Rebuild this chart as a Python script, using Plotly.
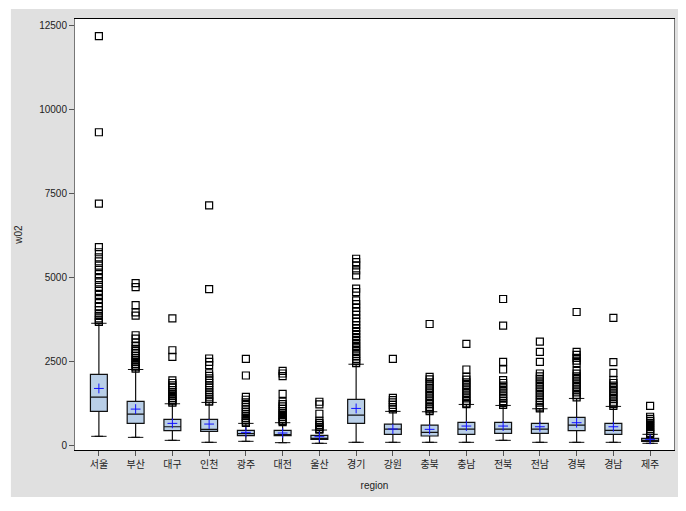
import plotly.graph_objects as go

regions = ['서울', '부산', '대구', '인천', '광주', '대전', '울산', '경기',
           '강원', '충북', '충남', '전북', '전남', '경북', '경남', '제주']

q1 = [1003, 645, 426, 407, 277, 277, 169, 645, 318, 268, 318, 347, 347, 426, 318, 110]
median = [1428, 922, 545, 467, 337, 298, 188, 893, 476, 377, 476, 476, 476, 595, 437, 129]
q3 = [2104, 1300, 765, 765, 437, 437, 288, 1359, 625, 595, 675, 675, 645, 824, 645, 198]
mean = [1687, 1071, 645, 625, 377, 357, 248, 1091, 476, 467, 565, 565, 545, 665, 545, 169]
lower_whisker = [259, 228, 139, 80, 110, 70, 50, 80, 80, 80, 80, 139, 80, 80, 80, 50]
upper_whisker = [3631, 2252, 1230, 1270, 645, 665, 446, 2410, 1003, 992, 1210, 1180, 1081, 1389, 1151, 318]

# outliers per region
outliers = {
    '서울': [12200, 9330, 7200, 5900, 5750, 5600, 5480, 5350, 5220, 5100, 4980, 4850,
            4720, 4600, 4480, 4350, 4230, 4120, 4020, 3930, 3850, 3780, 3720, 3670],
    '부산': [4830, 4710, 4175, 3958, 3860, 3274, 3175, 3050, 2950, 2870, 2800, 2730,
            2660, 2600, 2540, 2480, 2420, 2370, 2320, 2280],
    '대구': [3780, 2827, 2628, 1930, 1850, 1780, 1710, 1640, 1580, 1520, 1460, 1400,
            1350, 1300, 1260],
    '인천': [7150, 4652, 2580, 2480, 2380, 2140, 2060, 1990, 1920, 1850, 1780, 1710,
            1640, 1570, 1500, 1440, 1380, 1320, 1290],
    '광주': [2570, 2073, 1437, 1350, 1270, 1200, 1130, 1060, 990, 930, 870, 810, 750,
            700, 660],
    '대전': [2212, 2133, 2053, 1527, 1290, 1220, 1150, 1080, 1010, 950, 890, 830, 770,
            720, 680],
    '울산': [1290, 1210, 932, 724, 660, 600, 540, 480, 460],
    '경기': [5556, 5456, 5357, 5208, 5060, 4663, 4563, 4315, 4200, 4090, 3980, 3880,
            3780, 3680, 3580, 3490, 3400, 3310, 3220, 3130, 3040, 2960, 2880, 2800,
            2720, 2640, 2570, 2500, 2440],
    '강원': [2570, 1408, 1340, 1270, 1200, 1130, 1060],
    '충북': [3610, 2033, 1960, 1870, 1780, 1700, 1620, 1540, 1460, 1380, 1300, 1220,
            1140, 1060, 1010],
    '충남': [3016, 2252, 2033, 1950, 1870, 1790, 1710, 1630, 1550, 1470, 1390, 1310,
            1240, 1220],
    '전북': [4355, 3561, 2480, 2252, 1935, 1850, 1770, 1690, 1610, 1530, 1450, 1380,
            1310, 1250, 1200],
    '전남': [3085, 2777, 2480, 2133, 2050, 1970, 1890, 1810, 1730, 1650, 1570, 1490,
            1410, 1330, 1260, 1190, 1120, 1090],
    '경북': [3968, 2777, 2690, 2600, 2520, 2440, 2214, 2130, 2050, 1970, 1890, 1810,
            1730, 1650, 1570, 1490, 1420],
    '경남': [3790, 2470, 2153, 1935, 1850, 1770, 1690, 1610, 1530, 1450, 1370, 1290,
            1220, 1170],
    '제주': [1170, 843, 780, 720, 660, 600, 540, 480, 420, 360, 330],
}

y_ticks = [0, 2500, 5000, 7500, 10000, 12500]

font_family = "Liberation Sans, Noto Sans CJK KR, sans-serif"

fig = go.Figure()

fig.add_trace(go.Box(
    x=regions,
    q1=q1, median=median, q3=q3,
    lowerfence=lower_whisker, upperfence=upper_whisker,
    fillcolor='#b9cfe8',
    line=dict(color='#111111', width=1.2),
    width=0.46,
    boxpoints=False,
    hoverinfo='skip',
    showlegend=False,
))

# whisker caps
fig.add_trace(go.Scatter(
    x=regions + regions,
    y=lower_whisker + upper_whisker,
    mode='markers',
    marker=dict(symbol='line-ew', size=11, color='#111111',
                line=dict(color='#111111', width=1)),
    showlegend=False, hoverinfo='skip',
))

# outliers
ox, oy = [], []
for r in regions:
    for v in outliers[r]:
        ox.append(r)
        oy.append(v)
fig.add_trace(go.Scatter(
    x=ox, y=oy, mode='markers',
    marker=dict(symbol='square-open', size=7, color='black', line=dict(width=1.2)),
    showlegend=False,
))

# means
fig.add_trace(go.Scatter(
    x=regions, y=mean, mode='markers',
    marker=dict(symbol='cross-thin-open', size=7, color='#1010ff',
                line=dict(color='#1010ff', width=1)),
    showlegend=False,
))

# gray backdrop, white plot area on top of it
fig.add_shape(type='rect', xref='paper', yref='paper',
              x0=-0.107, x1=1.013, y0=-0.1088, y1=1.0231,
              fillcolor='#e0e0e0', line=dict(width=0), layer='below')
fig.add_shape(type='rect', xref='paper', yref='paper',
              x0=0, x1=1, y0=0, y1=1,
              fillcolor='white', line=dict(width=0), layer='below')

fig.update_layout(
    width=686, height=511,
    margin=dict(l=65, r=20, t=10, b=69),
    paper_bgcolor='white',
    plot_bgcolor='white',
    font=dict(family=font_family, size=10, color='#222222'),
    showlegend=False,
)
fig.update_xaxes(
    type='category', range=[-0.65, 15.65],
    showline=True, linecolor='black', linewidth=1, mirror=True,
    ticks='outside', ticklen=5, tickcolor='#555555',
    showgrid=False, zeroline=False,
    title=dict(text='region', standoff=12, font=dict(size=10)),
)
fig.update_yaxes(
    range=[-149, 12708],
    tickvals=y_ticks, ticktext=[str(v) for v in y_ticks],
    showline=True, linecolor='#777777', linewidth=1, mirror=True,
    ticks='outside', ticklen=5, tickcolor='#555555',
    showgrid=False, zeroline=False,
    title=dict(text='w02', standoff=14, font=dict(size=10)),
)

fig.write_html("out.html")
